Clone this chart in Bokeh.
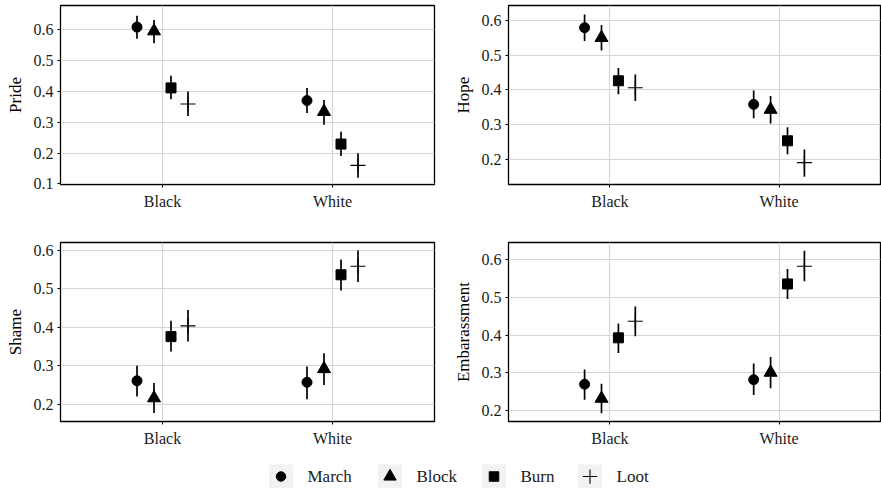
from bokeh.plotting import figure
from bokeh.models import ColumnDataSource, Range1d, FactorRange, SingleIntervalTicker
from bokeh.transform import dodge
from bokeh.layouts import column, row
from bokeh.embed import file_html
from bokeh.resources import INLINE
from bokeh.core.properties import value

# ---------------- data ----------------
groups = ["Black", "White"]
tactics = ["March", "Block", "Burn", "Loot"]
emotions = ["Pride", "Hope", "Shame", "Embarassment"]

# estimates per tactic: [Black, White]
pride_est = {"March": [0.608, 0.370], "Block": [0.595, 0.334], "Burn": [0.411, 0.229], "Loot": [0.359, 0.160]}
pride_lo = {"March": [0.570, 0.330], "Block": [0.556, 0.292], "Burn": [0.374, 0.190], "Loot": [0.320, 0.120]}
pride_hi = {"March": [0.645, 0.411], "Block": [0.631, 0.372], "Burn": [0.450, 0.269], "Loot": [0.399, 0.199]}

hope_est = {"March": [0.579, 0.358], "Block": [0.550, 0.343], "Burn": [0.426, 0.253], "Loot": [0.406, 0.190]}
hope_lo = {"March": [0.541, 0.318], "Block": [0.513, 0.303], "Burn": [0.387, 0.214], "Loot": [0.368, 0.149]}
hope_hi = {"March": [0.617, 0.398], "Block": [0.587, 0.382], "Burn": [0.463, 0.292], "Loot": [0.444, 0.228]}

shame_est = {"March": [0.261, 0.257], "Block": [0.216, 0.292], "Burn": [0.376, 0.537], "Loot": [0.404, 0.559]}
shame_lo = {"March": [0.220, 0.213], "Block": [0.177, 0.250], "Burn": [0.337, 0.496], "Loot": [0.363, 0.518]}
shame_hi = {"March": [0.300, 0.298], "Block": [0.255, 0.333], "Burn": [0.417, 0.577], "Loot": [0.445, 0.600]}

emb_est = {"March": [0.270, 0.282], "Block": [0.232, 0.301], "Burn": [0.393, 0.536], "Loot": [0.437, 0.583]}
emb_lo = {"March": [0.229, 0.241], "Block": [0.193, 0.259], "Burn": [0.353, 0.496], "Loot": [0.397, 0.543]}
emb_hi = {"March": [0.309, 0.325], "Block": [0.271, 0.342], "Burn": [0.431, 0.576], "Loot": [0.476, 0.624]}

y_limits = {"Pride": (0.098, 0.678), "Hope": (0.127, 0.643),
            "Shame": (0.155, 0.621), "Embarassment": (0.171, 0.646)}

# ---------------- styles ----------------
FONT = "Liberation Serif"
markers = {"March": "circle", "Block": "triangle", "Burn": "square", "Loot": "cross"}
msizes = {"March": 10, "Block": 13, "Burn": 10, "Loot": 15}
mlw = {"March": 1, "Block": 1, "Burn": 1, "Loot": 1.1}
offsets = {"March": -0.15, "Block": -0.05, "Burn": 0.05, "Loot": 0.15}
GRID = "#D6D6D6"


def make_panel(name, est, lo, hi, border_left, frame_w, border_right,
               border_top, frame_h, border_bottom):
    p = figure(x_range=FactorRange(factors=groups, range_padding=0.1),
               y_range=Range1d(*y_limits[name]),
               frame_width=frame_w, frame_height=frame_h,
               min_border_left=border_left, min_border_right=border_right,
               min_border_top=border_top, min_border_bottom=border_bottom,
               toolbar_location=None, output_backend="svg")
    for t in tactics:
        src = ColumnDataSource(dict(g=groups, est=est[t], lo=lo[t], hi=hi[t]))
        xd = dodge("g", offsets[t], range=p.x_range)
        p.segment(x0=xd, y0="lo", x1=xd, y1="hi", source=src,
                  line_color="black", line_width=1.7)
        p.scatter(x=xd, y="est", source=src, marker=markers[t], size=msizes[t],
                  fill_color="black", line_color="black", line_width=mlw[t])
    p.yaxis.ticker = SingleIntervalTicker(interval=0.1, num_minor_ticks=0)
    p.yaxis.axis_label = name
    for ax in (p.xaxis[0], p.yaxis[0]):
        ax.axis_line_color = None
        ax.major_tick_out = 3
        ax.major_tick_in = 0
        ax.major_tick_line_color = "black"
        ax.major_tick_line_width = 1
        ax.minor_tick_line_color = None
        ax.major_label_text_font = FONT
        ax.major_label_text_font_size = "16px"
        ax.major_label_text_color = "#1A1A1A"
        ax.axis_label_text_font = FONT
        ax.axis_label_text_font_size = "17px"
        ax.axis_label_text_font_style = "normal"
        ax.axis_label_text_color = "black"
    p.yaxis.major_label_standoff = 4
    p.yaxis.axis_label_standoff = 6
    p.xaxis.major_label_standoff = 5
    p.xgrid.grid_line_color = GRID
    p.ygrid.grid_line_color = GRID
    p.xgrid.grid_line_width = 1.2
    p.ygrid.grid_line_width = 1.2
    p.outline_line_color = "black"
    p.outline_line_width = 1.3
    p.background_fill_color = "white"
    p.border_fill_color = "white"
    return p


FH = 179
p1 = make_panel("Pride", pride_est, pride_lo, pride_hi, 60, 374, 6, 5, FH, 50)
p2 = make_panel("Hope", hope_est, hope_lo, hope_hi, 68, 372, 1, 5, FH, 50)
p3 = make_panel("Shame", shame_est, shame_lo, shame_hi, 60, 374, 6, 8, FH, 34)
p4 = make_panel("Embarassment", emb_est, emb_lo, emb_hi, 68, 372, 1, 8, FH, 34)

# ---------------- legend ----------------
LW, LH = 881, 33
leg = figure(width=LW, height=LH, x_range=Range1d(0, LW), y_range=Range1d(0, LH),
             min_border=0, toolbar_location=None, output_backend="svg",
             x_axis_location=None, y_axis_location=None)
leg.grid.visible = False
leg.outline_line_color = None
key_centers = [280.5, 389.5, 493.5, 589.5]
key_y = 12
leg.rect(x=key_centers, y=[key_y] * 4, width=24, height=24,
         fill_color="#F2F2F2", line_color=None)
for t, cx in zip(tactics, key_centers):
    leg.scatter(x=[cx], y=[key_y], marker=markers[t], size=msizes[t] * 0.95,
                fill_color="black", line_color="black", line_width=mlw[t])
leg.text(x=[c + 26.5 for c in key_centers], y=[key_y] * 4, text=tactics,
         text_font=value(FONT), text_font_size="17px", text_baseline="middle",
         text_align="left", text_color="#1A1A1A")

layout = column(row(p1, p2), row(p3, p4), leg)
open("out.html", "w").write(file_html(layout, INLINE))
